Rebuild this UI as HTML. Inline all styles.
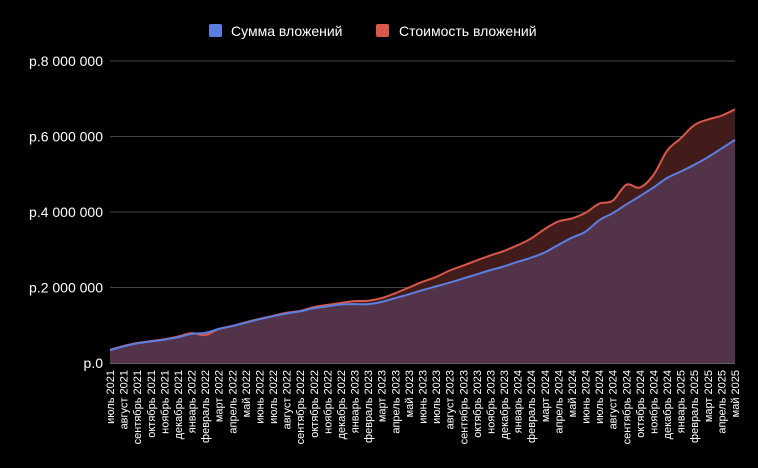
<!DOCTYPE html>
<html><head><meta charset="utf-8"><style>
html,body{margin:0;padding:0;background:#000;}
svg{display:block;font-family:"Liberation Sans",sans-serif;}
</style></head><body>
<svg id="chart" width="758" height="468">
<g id="legend">
 <rect x="209" y="24" width="13" height="13" rx="2" fill="#5b7fe0"/>
 <text x="231" y="36" fill="#fff" font-size="14">Сумма вложений</text>
 <rect x="376" y="24" width="13" height="13" rx="2" fill="#d9584a"/>
 <text x="399" y="36" fill="#fff" font-size="14">Стоимость вложений</text>
</g>
<g id="grid"></g><g id="areas"></g><g id="xlabels"></g>
</svg>
<script>
const months=["июль 2021","август 2021","сентябрь 2021","октябрь 2021","ноябрь 2021","декабрь 2021","январь 2022","февраль 2022","март 2022","апрель 2022","май 2022","июнь 2022","июль 2022","август 2022","сентябрь 2022","октябрь 2022","ноябрь 2022","декабрь 2022","январь 2023","февраль 2023","март 2023","апрель 2023","май 2023","июнь 2023","июль 2023","август 2023","сентябрь 2023","октябрь 2023","ноябрь 2023","декабрь 2023","январь 2024","февраль 2024","март 2024","апрель 2024","май 2024","июнь 2024","июль 2024","август 2024","сентябрь 2024","октябрь 2024","ноябрь 2024","декабрь 2024","январь 2025","февраль 2025","март 2025","апрель 2025","май 2025"];
const sumValues=[0.34,0.44,0.52,0.57,0.62,0.68,0.77,0.8,0.9,0.98,1.07,1.16,1.24,1.31,1.37,1.45,1.5,1.55,1.56,1.56,1.62,1.72,1.82,1.93,2.03,2.13,2.24,2.35,2.46,2.56,2.68,2.79,2.93,3.13,3.32,3.48,3.78,3.97,4.2,4.42,4.65,4.9,5.07,5.25,5.45,5.68,5.91];
const costValues=[0.35,0.45,0.53,0.58,0.63,0.7,0.79,0.74,0.9,0.98,1.08,1.17,1.25,1.33,1.38,1.48,1.54,1.59,1.64,1.65,1.72,1.85,2.0,2.15,2.28,2.45,2.58,2.72,2.85,2.97,3.12,3.3,3.55,3.75,3.83,3.98,4.22,4.3,4.72,4.65,4.98,5.62,5.95,6.3,6.45,6.55,6.72];
const yTicks=[0,2,4,6,8];
const yTickLabels=["р.0","р.2 000 000","р.4 000 000","р.6 000 000","р.8 000 000"];
const NS="http://www.w3.org/2000/svg";
const X0=110,X1=735,Y0=363,Y1=61,YMAX=8;
const xs=i=>X0+(X1-X0)*i/(months.length-1);
const ys=v=>Y0-(Y0-Y1)*v/YMAX;
function mk(tag,attrs,parent){const e=document.createElementNS(NS,tag);for(const k in attrs)e.setAttribute(k,attrs[k]);parent.appendChild(e);return e;}
const grid=document.getElementById('grid');
yTicks.forEach((t,i)=>{
 const l=mk('line',{x1:X0,x2:X1,y1:ys(t),y2:ys(t),stroke:t===0?'#bbb':'#444','stroke-width':1},grid);
 
 
 const tx=mk('text',{x:103,y:ys(t)+5,'text-anchor':'end',fill:'#fff','font-size':14},grid);
 tx.textContent=yTickLabels[i];
 
 
});
function smooth(vals){
 const p=vals.map((v,i)=>[xs(i),ys(v)]);
 let d=`M${p[0][0]},${p[0][1]}`;
 for(let i=0;i<p.length-1;i++){
  const a=p[Math.max(0,i-1)],b=p[i],c=p[i+1],e=p[Math.min(p.length-1,i+2)];
  const t=0.18;
  d+=` C${b[0]+(c[0]-a[0])*t},${b[1]+(c[1]-a[1])*t} ${c[0]-(e[0]-b[0])*t},${c[1]-(e[1]-b[1])*t} ${c[0]},${c[1]}`;
 }
 return d;
}
const areas=document.getElementById('areas');
const close=` L${X1},${Y0} L${X0},${Y0} Z`;
const ca=mk('path',{d:smooth(costValues)+close,fill:'#421b1b'},areas);


const sa=mk('path',{d:smooth(sumValues)+close,fill:'#533349'},areas);


const cl=mk('path',{d:smooth(costValues),fill:'none',stroke:'#d9584a','stroke-width':2},areas);


const sl=mk('path',{d:smooth(sumValues),fill:'none',stroke:'#5b7fe0','stroke-width':2},areas);


const xl=document.getElementById('xlabels');
months.forEach((m,i)=>{
 const x=xs(i)+4;
 const t=mk('text',{x:x,y:370,'text-anchor':'end',fill:'#fff','font-size':11,transform:`rotate(-90 ${x} 370)`},xl);
 t.textContent=m;
 
 
});
</script>
</body></html>
